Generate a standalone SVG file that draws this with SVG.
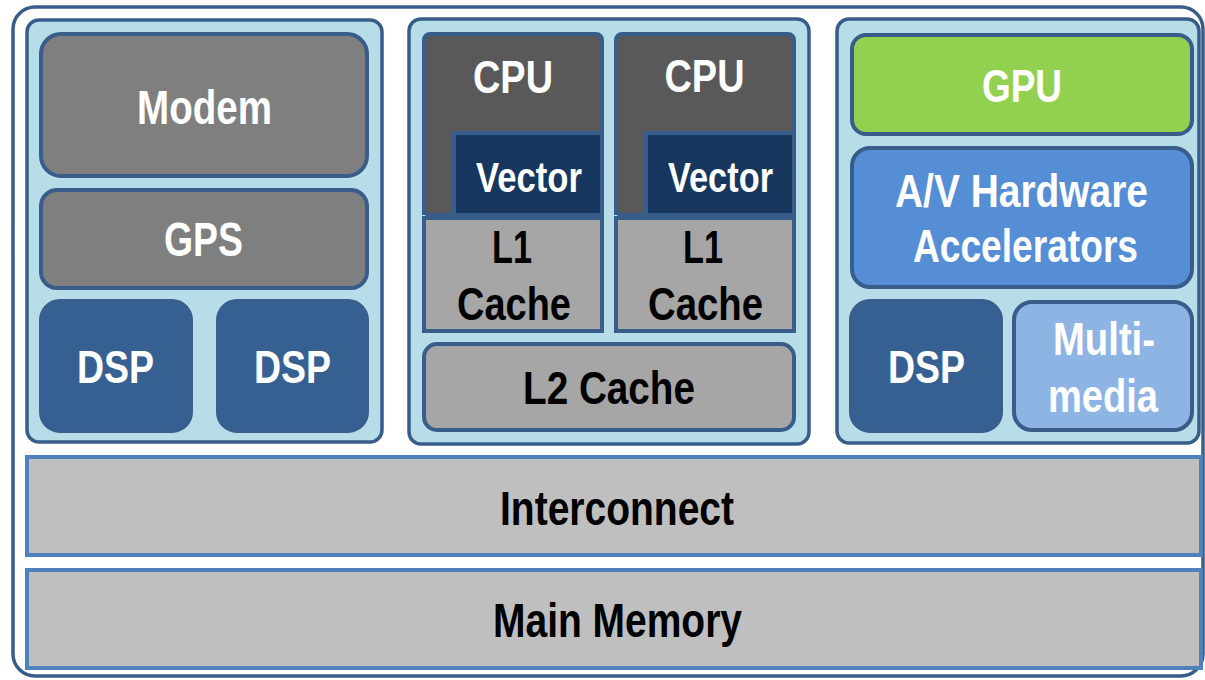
<svg xmlns="http://www.w3.org/2000/svg" width="1205" height="680" viewBox="0 0 1205 680">
<style>
.t{font-family:"Liberation Sans",Arial,sans-serif;font-weight:bold;text-anchor:middle}
.w{fill:#ffffff}
.k{fill:#000000}
.panel{fill:#b7dee8;stroke:#385d8a;stroke-width:3.5}
.blk{stroke:#385d8a;stroke-width:4}
.dsp{fill:#376092;stroke:#3a5d8c;stroke-width:2}
.bar{fill:#bfbfbf;stroke:#4f81bd;stroke-width:4}
</style>
<rect id="frame" x="13" y="7" width="1190" height="669" rx="22" fill="#ffffff" stroke="#385d8a" stroke-width="3.5"/>
<g id="left-panel">
<rect class="panel" x="27" y="20" width="355" height="422" rx="12"/>
</g>
<g id="modem">
<rect class="blk" x="41" y="34" width="326" height="142" rx="20" fill="#7f7f7f"/>
<text class="t w" x="204.5" y="124" font-size="48.5" textLength="135" lengthAdjust="spacingAndGlyphs">Modem</text>
</g>
<g id="gps">
<rect class="blk" x="41" y="190" width="326" height="98" rx="16" fill="#7f7f7f"/>
<text class="t w" x="203.5" y="256" font-size="48" textLength="79" lengthAdjust="spacingAndGlyphs">GPS</text>
</g>
<g id="dsp1">
<rect class="dsp" x="40" y="300" width="152" height="132" rx="20"/>
<text class="t w" x="115.5" y="383" font-size="46.5" textLength="77" lengthAdjust="spacingAndGlyphs">DSP</text>
</g>
<g id="dsp2">
<rect class="dsp" x="217" y="300" width="151" height="132" rx="20"/>
<text class="t w" x="292.5" y="383" font-size="46.5" textLength="77" lengthAdjust="spacingAndGlyphs">DSP</text>
</g>
<g id="mid-panel">
<rect class="panel" x="409" y="19" width="400" height="425" rx="12"/>
</g>
<g id="cpu1">
<path class="blk" d="M424,215 V40 a6,6 0 0 1 6,-6 H596 a6,6 0 0 1 6,6 V215 H430 a6,6 0 0 1 -6,-6 Z" fill="#595959"/>
<text class="t w" x="513" y="93" font-size="46.5" textLength="80" lengthAdjust="spacingAndGlyphs">CPU</text>
</g>
<g id="vector1">
<rect x="454" y="133" width="148" height="82" fill="#17375e" stroke="#385d8a" stroke-width="4"/>
<text class="t w" x="529" y="192" font-size="42.5" textLength="106" lengthAdjust="spacingAndGlyphs">Vector</text>
</g>
<g id="l1-1">
<rect class="blk" x="424" y="218" width="178" height="113" fill="#a6a6a6"/>
<text class="t k" x="512" y="263" font-size="46.5" textLength="40" lengthAdjust="spacingAndGlyphs">L1</text>
<text class="t k" x="514" y="320" font-size="46.5" textLength="114" lengthAdjust="spacingAndGlyphs">Cache</text>
</g>
<g id="cpu2">
<path class="blk" d="M616,215 V40 a6,6 0 0 1 6,-6 H788 a6,6 0 0 1 6,6 V215 H622 a6,6 0 0 1 -6,-6 Z" fill="#595959"/>
<text class="t w" x="704.5" y="92" font-size="46.5" textLength="80" lengthAdjust="spacingAndGlyphs">CPU</text>
</g>
<g id="vector2">
<rect x="646" y="133" width="148" height="82" fill="#17375e" stroke="#385d8a" stroke-width="4"/>
<text class="t w" x="720.5" y="192" font-size="42.5" textLength="105" lengthAdjust="spacingAndGlyphs">Vector</text>
</g>
<g id="l1-2">
<rect class="blk" x="616" y="218" width="178" height="113" fill="#a6a6a6"/>
<text class="t k" x="703" y="263" font-size="46.5" textLength="40" lengthAdjust="spacingAndGlyphs">L1</text>
<text class="t k" x="705.5" y="320" font-size="46.5" textLength="115" lengthAdjust="spacingAndGlyphs">Cache</text>
</g>
<g id="l2">
<rect class="blk" x="424" y="344" width="370" height="86" rx="13" fill="#a6a6a6"/>
<text class="t k" x="609" y="404" font-size="46" textLength="172" lengthAdjust="spacingAndGlyphs">L2 Cache</text>
</g>
<g id="right-panel">
<rect class="panel" x="837" y="19" width="362" height="424" rx="12"/>
</g>
<g id="gpu">
<rect class="blk" x="852" y="35" width="340" height="99" rx="14" fill="#92d050"/>
<text class="t w" x="1022" y="102" font-size="46" textLength="80" lengthAdjust="spacingAndGlyphs">GPU</text>
</g>
<g id="av">
<rect class="blk" x="852" y="148" width="340" height="139" rx="18" fill="#558ed5"/>
<text class="t w" x="1021.5" y="207" font-size="47" textLength="253" lengthAdjust="spacingAndGlyphs">A/V Hardware</text>
<text class="t w" x="1025.5" y="262" font-size="47" textLength="225" lengthAdjust="spacingAndGlyphs">Accelerators</text>
</g>
<g id="dsp3">
<rect class="dsp" x="850" y="300" width="152" height="132" rx="20"/>
<text class="t w" x="926.5" y="383" font-size="46.5" textLength="77" lengthAdjust="spacingAndGlyphs">DSP</text>
</g>
<g id="multimedia">
<rect class="blk" x="1014" y="302" width="178" height="128" rx="18" fill="#8eb4e3"/>
<text class="t w" x="1104" y="355" font-size="46.5" textLength="102" lengthAdjust="spacingAndGlyphs">Multi-</text>
<text class="t w" x="1103" y="412" font-size="46.5" textLength="110" lengthAdjust="spacingAndGlyphs">media</text>
</g>
<g id="interconnect">
<rect class="bar" x="27" y="457" width="1174" height="98"/>
<text class="t k" x="617" y="525" font-size="47.5" textLength="234" lengthAdjust="spacingAndGlyphs">Interconnect</text>
</g>
<g id="main-memory">
<rect class="bar" x="27" y="570" width="1174" height="98"/>
<text class="t k" x="617.5" y="637" font-size="47.5" textLength="249" lengthAdjust="spacingAndGlyphs">Main Memory</text>
</g>
<g id="connectors"></g>
</svg>
